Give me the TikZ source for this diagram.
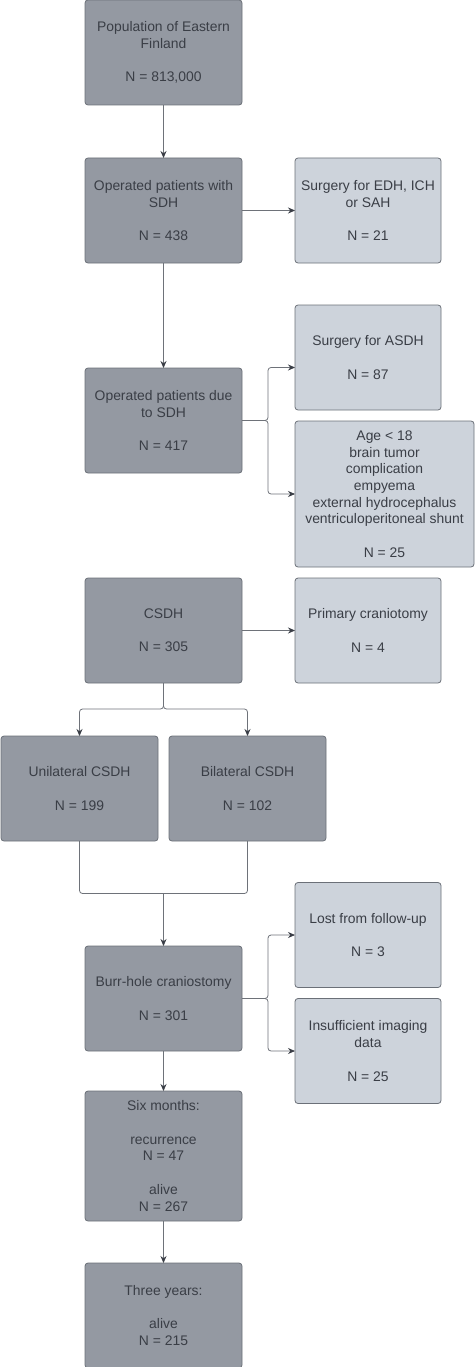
\documentclass[tikz,border=0pt]{standalone}
\usepackage{fontspec}
\setmainfont{Liberation Sans}
\usepackage{xcolor}
\usetikzlibrary{calc,positioning,arrows.meta}
\definecolor{boxdark}{HTML}{9499A2}
\definecolor{boxlight}{HTML}{CDD3DB}
\definecolor{boxline}{HTML}{6B7078}
\definecolor{linkline}{HTML}{6E7279}
\definecolor{textgray}{HTML}{3A3E46}
\tikzset{
>={Stealth[length=7pt,width=6pt,color=textgray]},
  mainbox/.style={
    rectangle,
    rounded corners=3pt,
    draw=boxline, line width=0.8pt,
    fill=boxdark,
    outer sep=0pt,
    minimum width=157pt,
    minimum height=105pt,
    align=center,
    text=textgray,
    font=\fontsize{13.9}{16.7}\selectfont},
  sidebox/.style={mainbox, fill=boxlight, minimum width=146pt},
  myarrow/.style={draw=linkline, line width=0.8pt, rounded corners=3pt},
}

\begin{document}
\begin{tikzpicture}
      \useasboundingbox (0,0) rectangle (474pt,-1367pt);

      \node[mainbox] (pop) at (163.5pt,-52.5pt) {Population of Eastern\\Finland\\[16.7pt]N = 813,000};
      \node[mainbox, below=53pt of pop] (opsdh) {Operated patients with\\SDH\\[16.7pt]N = 438};
      \node[sidebox, right=53pt of opsdh] (other) {Surgery for EDH, ICH\\or SAH\\[16.7pt]N = 21};
      \node[mainbox, below=105pt of opsdh] (duesdh) {Operated patients due\\to SDH\\[16.7pt]N = 417};
      \node[sidebox, above right=10.5pt and 53pt of duesdh.east] (asdh) {Surgery for ASDH\\[16.7pt]N = 87};
      \node[sidebox, below right=0.5pt and 53pt of duesdh.east, minimum width=179pt, minimum height=146pt] (excl) {Age < 18\\brain tumor\\complication\\empyema\\external hydrocephalus\\ventriculoperitoneal shunt\\[16.7pt]N = 25};
      \node[mainbox, below=105pt of duesdh] (csdh) {CSDH\\[16.7pt]N = 305};
      \node[sidebox, right=53pt of csdh] (cranio) {Primary craniotomy\\[16.7pt]N = 4};
      \node[mainbox, below left=53pt and 5.5pt of csdh.south] (uni) {Unilateral CSDH\\[16.7pt]N = 199};
      \node[mainbox, below right=53pt and 5.5pt of csdh.south] (bil) {Bilateral CSDH\\[16.7pt]N = 102};
      \node[mainbox, below=263pt of csdh] (burr) {Burr-hole craniostomy\\[16.7pt]N = 301};
      \node[sidebox, above right=11pt and 53pt of burr.east] (lost) {Lost from follow-up\\[16.7pt]N = 3};
      \node[sidebox, below right=0pt and 53pt of burr.east] (insuf) {Insufficient imaging\\data\\[16.7pt]N = 25};
      \node[mainbox, below=40pt of burr, minimum height=130pt] (six) {Six months:\\[16.7pt]recurrence\\N = 47\\[16.7pt]alive\\N = 267};
      \node[mainbox, below=42pt of six] (three) {Three years:\\[16.7pt]alive\\N = 215};
      \coordinate (merge) at ($(burr.north)!0.5!(burr.north |- uni.south)$);

      \path[myarrow,->] (pop) -- (opsdh);
      \path[myarrow,->] (opsdh) -- (other);
      \path[myarrow,->] (opsdh) -- (duesdh);
      \path[myarrow,->] (duesdh.east) -- ++(26pt,0) |- ([yshift=-10pt]asdh.west);
      \path[myarrow,->] (duesdh.east) -- ++(26pt,0) |- (excl.west);
      \path[myarrow,->] (csdh) -- (cranio);
      \path[myarrow,->] (csdh.south) -- ++(0,-26pt) -| (uni.north);
      \path[myarrow,->] (csdh.south) -- ++(0,-26pt) -| (bil.north);
      \path[myarrow] (uni.south) |- (merge) -| (bil.south);
      \path[myarrow,->] (merge) -- (burr);
      \path[myarrow,->] (burr.east) -- ++(26pt,0) |- (lost.west);
      \path[myarrow,->] (burr.east) -- ++(26pt,0) |- (insuf.west);
      \path[myarrow,->] (burr) -- (six);
      \path[myarrow,->] (six) -- (three);

\end{tikzpicture}
\end{document}
